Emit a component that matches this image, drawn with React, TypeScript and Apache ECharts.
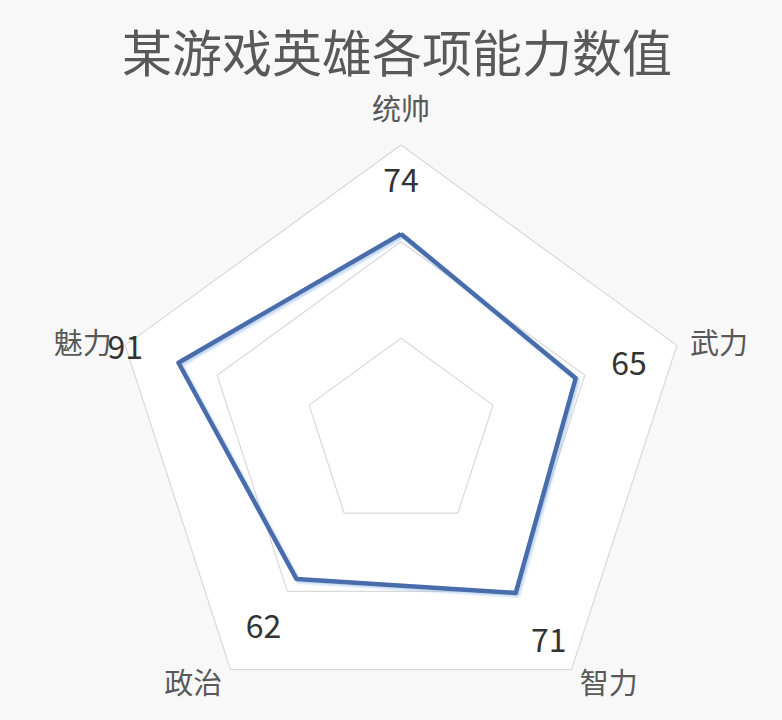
import React, { useEffect, useRef } from "react";
import * as echarts from "echarts";

// ECharts walks indicators counter-clockwise, so the list goes top, left, bottom-left, bottom-right, right
const indicatorNames = ["统帅", "魅力", "政治", "智力", "武力"];
const heroValues = [74, 91, 62, 71, 65];
const axisMin = -30;
const axisMax = 120;

const FONT = "'Noto Sans CJK SC', 'Noto Sans', sans-serif";
const CX = 401;
const CY = 435;
const LABEL_PUSH = 56;

export default function App() {
  const chartRef = useRef<HTMLDivElement>(null);

  useEffect(() => {
    if (!chartRef.current) return;
    const chart = echarts.init(chartRef.current, null, { renderer: "svg" });

    const option = {
      animation: false,
      backgroundColor: "#f8f8f8",
      title: {
        text: "某游戏英雄各项能力数值",
        left: 117,
        top: 20,
        textStyle: {
          fontFamily: FONT,
          fontSize: 50,
          fontWeight: "normal",
          color: "#595959",
        },
      },
      radar: {
        center: [CX, CY],
        radius: 290,
        startAngle: 90,
        shape: "polygon",
        splitNumber: 3,
        nameGap: 14,
        axisName: {
          fontFamily: FONT,
          fontSize: 29,
          color: "#595959",
          // the top name sits a little higher in the original
          formatter: (name: string) => (name === indicatorNames[0] ? `{top|${name}}` : name),
          rich: {
            top: {
              fontFamily: FONT,
              fontSize: 29,
              color: "#595959",
              padding: [0, 0, 10, 0],
            },
          },
        },
        indicator: indicatorNames.map((name) => ({ name, min: axisMin, max: axisMax })),
        axisLine: { show: false },
        axisTick: { show: false },
        axisLabel: { show: false },
        splitLine: { lineStyle: { color: "#d9d9d9", width: 1.2 } },
        splitArea: { show: true, areaStyle: { color: ["#ffffff"] } },
      },
      series: [
        {
          type: "radar",
          symbol: "circle",
          symbolSize: 2,
          itemStyle: { color: "#4a6cab" },
          lineStyle: {
            color: "#4a6cab",
            width: 4.5,
            shadowColor: "rgba(150,190,235,0.6)",
            shadowBlur: 2,
            shadowOffsetX: 2,
            shadowOffsetY: 2,
          },
          label: {
            show: true,
            fontFamily: FONT,
            fontSize: 32,
            color: "#333333",
          },
          // push each value label outward along its spoke, as in the original
          labelLayout: (params: any) => {
            const r = params.rect;
            const px = r.x + r.width / 2;
            const py = r.y + r.height / 2;
            const dx = px - CX;
            const dy = py - CY;
            const len = Math.sqrt(dx * dx + dy * dy) || 1;
            return {
              x: px + (dx / len) * LABEL_PUSH,
              y: py + (dy / len) * LABEL_PUSH,
              align: "center",
              verticalAlign: "middle",
            };
          },
          data: [{ value: heroValues, name: "能力" }],
        },
      ],
    };

    chart.setOption(option);

    return () => {
      chart.dispose();
    };
  }, []);

  return (
    <div
      ref={chartRef}
      style={{ position: "absolute", left: 0, top: 0, width: "782px", height: "720px" }}
    />
  );
}
